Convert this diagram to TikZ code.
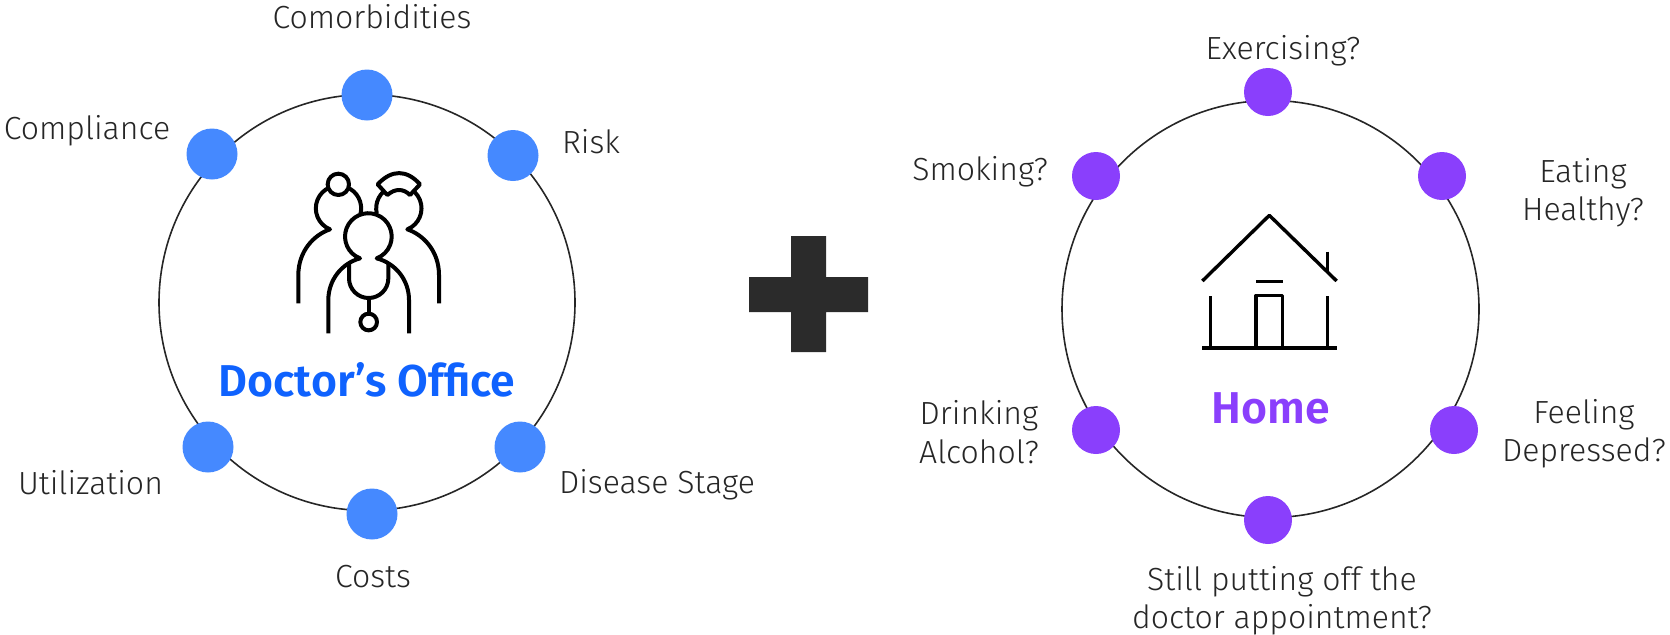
\documentclass[tikz,border=0pt]{standalone}
\usepackage{fontspec}
\setmainfont{Fira Sans Light}[BoldFont={Fira Sans SemiBold}]
\definecolor{dblue}{HTML}{4589FF}
\definecolor{tblue}{HTML}{0F62FE}
\definecolor{vio}{HTML}{8A3FFC}
\definecolor{plusc}{HTML}{2B2B2B}
\definecolor{ringc}{HTML}{262626}
\tikzset{
  ring/.style={circle,draw=ringc,line width=0.8pt,minimum size=#1,inner sep=0pt},
  bdot/.style={circle,fill=dblue,minimum size=25.5pt,inner sep=0pt},
  vdot/.style={circle,fill=vio,minimum size=24pt,inner sep=0pt},
  lab/.style={align=center,font=\fontsize{16}{19.2}\selectfont,text=ringc,inner sep=0pt},
  ttl/.style={font=\fontsize{22.3}{26}\selectfont\bfseries,inner sep=0pt},
  ico/.style={draw=black,line width=2pt,line cap=butt,line join=round},
  hico/.style={draw=black,line width=1.7pt,line cap=butt,line join=round},
}
\begin{document}
\begin{tikzpicture}[x=0.5pt,y=0.5pt]
\useasboundingbox (0,-634) rectangle (1670,0);
% left ring
\node[ring=208pt] (ringL) at (367,-302.5) {};
\node[bdot] (d1) at (367,-95) {};
\node[bdot] (d2) at (212,-154) {};
\node[bdot] (d3) at (513,-155.5) {};
\node[bdot] (d4) at (208,-447) {};
\node[bdot] (d5) at (520,-447) {};
\node[bdot] (d6) at (372,-514) {};
\node[lab] (l1) at (372,-17) {Comorbidities};
\node[lab] (l2) at (87,-131) {Compliance};
\node[lab] (l3) at (591,-142) {Risk};
\node[lab] (l4) at (90.5,-483) {Utilization};
\node[lab] (l5) at (657,-485) {Disease Stage};
\node[lab] (l6) at (373,-577) {Costs};
\node[ttl,text=tblue] (tL) at (367,-380) {Doctor’s Office};
% doctor icon
\begin{scope}[shift={(270,-150)},x=0.16667pt,y=0.16667pt]
 \draw[ico] (85,-460) -- (85,-375) .. controls (85,-305) and (130,-255) .. (180,-238) arc[start angle=248,end angle=-13,radius=68];
 \draw[ico] (507,-460) -- (507,-375) .. controls (507,-305) and (462,-255) .. (412,-238) arc[start angle=292,end angle=553,radius=68];
 \draw[ico,fill=white] (205,-103) circle[radius=32];
 \draw[ico,fill=white] (323,-103) .. controls (365,-58) and (410,-58) .. (450,-103) -- (420,-135) .. controls (400,-115) and (375,-115) .. (352,-135) -- cycle;
 \draw[ico] (175,-550) -- (175,-450) .. controls (175,-390) and (215,-340) .. (270,-325) arc[start angle=249,end angle=-69,radius=70] .. controls (377,-340) and (417,-390) .. (417,-450) -- (417,-550);
 \draw[ico] (237,-342) -- (237,-385) arc[start angle=180,end angle=360,radius=59] -- (355,-342);
 \draw[ico] (296,-444) -- (296,-491);
 \draw[ico] (296,-516) circle[radius=25];
\end{scope}
% plus
\fill[plusc] (791,-236) -- (826,-236) -- (826,-277) -- (868,-277) -- (868,-312) -- (826,-312) -- (826,-352) -- (791,-352) -- (791,-312) -- (749,-312) -- (749,-277) -- (791,-277) -- cycle;
% right ring
\node[ring=208.5pt] (ringR) at (1270.5,-309) {};
\node[vdot] (v1) at (1268,-92) {};
\node[vdot] (v2) at (1442,-176) {};
\node[vdot] (v3) at (1096,-176) {};
\node[vdot] (v4) at (1096,-430) {};
\node[vdot] (v5) at (1454,-430) {};
\node[vdot] (v6) at (1268,-520) {};
\node[lab] (m1) at (1283,-51) {Exercising?};
\node[lab] (m2) at (980,-172) {Smoking?};
\node[lab] (m3) at (1583,-192.5) {Eating\\Healthy?};
\node[lab] (m4) at (979,-432) {Drinking\\Alcohol?};
\node[lab] (m5) at (1584,-434) {Feeling\\Depressed?};
\node[lab] (m6) at (1282,-600.5) {Still putting off the\\doctor appointment?};
\node[ttl,text=vio] (tR) at (1271,-408) {Home};
% house icon
\begin{scope}[shift={(1180,-200)},x=0.16667pt,y=0.16667pt]
 \draw[hico] (67,-243) -- (268,-46) -- (470,-243);
 \draw[hico] (443,-155) -- (443,-218);
 \draw[hico] (228,-245) -- (308,-245);
 \draw[hico] (92,-288) -- (92,-443);
 \draw[hico] (443,-288) -- (443,-443);
 \draw[hico] (228,-443) -- (228,-286) -- (308,-286) -- (308,-443);
 \draw[hico] (66,-444) -- (470,-444);
\end{scope}
\end{tikzpicture}
\end{document}
